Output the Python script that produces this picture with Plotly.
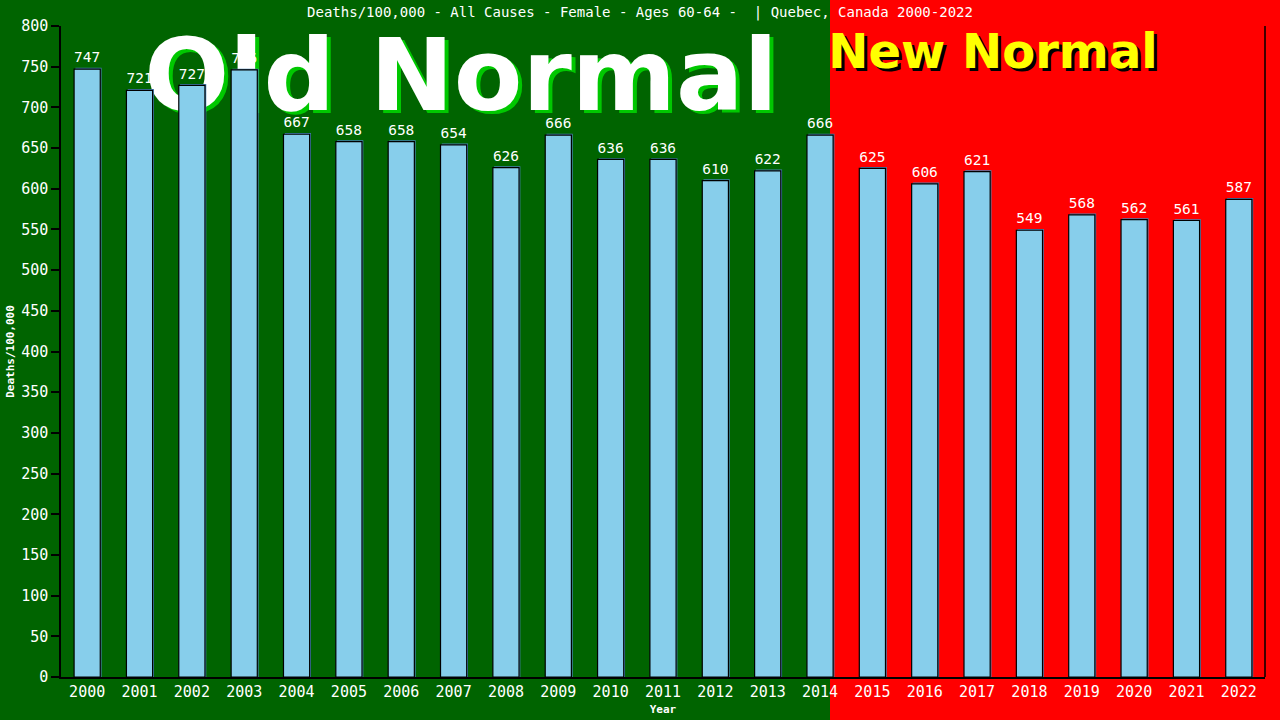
import plotly.graph_objects as go

years = [str(y) for y in range(2000, 2023)]
values = [747, 721, 727, 746, 667, 658, 658, 654, 626, 666, 636, 636, 610, 622, 666,
          625, 606, 621, 549, 568, 562, 561, 587]
labels = [str(v) for v in values]
y_ticks = list(range(0, 801, 50))

MONO = "DejaVu Sans Mono"
SANS_B = "DejaVu Sans"

PX_X = 23 / 1204   # one pixel in category units
PX_Y = 800 / 651   # one pixel in value units

fig = go.Figure()
# thin steel-blue edge behind each bar (shifted 1px right / up)
fig.add_trace(go.Bar(
    x=years, y=[v + 1.3 * PX_Y for v in values], width=0.5, offset=-0.25 + 1.3 * PX_X,
    marker=dict(color="#4682B4", line=dict(width=0)), hoverinfo="skip",
))
fig.add_trace(go.Bar(
    x=years, y=values, width=0.5, offset=-0.25, text=labels, textposition="outside",
    textfont=dict(family=MONO, size=15, color="white"),
    marker=dict(color="#87CEEB", line=dict(color="black", width=1.2)),
    cliponaxis=False,
))

split = (830 - 61) / 1204

shapes = [
    dict(type="rect", xref="paper", yref="paper", x0=-0.2, x1=split, y0=-0.2, y1=1.2,
         fillcolor="#006400", line=dict(width=0), layer="below"),
    dict(type="line", xref="paper", yref="paper", x0=1, x1=1, y0=0, y1=1,
         line=dict(color="black", width=1.5), layer="above"),
]

def text_shape(txt, cx, cy, size, color, dx=0, dy=0):
    px = lambda x: (x - 61) / 1204
    py = lambda y: (677 - y) / 651
    return dict(type="rect", xref="paper", yref="paper",
                x0=px(cx - 400 + dx), x1=px(cx + 400 + dx),
                y0=py(cy + 60 + dy), y1=py(cy - 60 + dy),
                line=dict(width=0), fillcolor="rgba(0,0,0,0)", layer="below",
                label=dict(text=txt, textposition="middle center",
                           font=dict(family=SANS_B, size=size, color=color, weight="bold")))

shapes.append(text_shape("Old Normal", 461, 68, 100, "#00c800", dx=4, dy=3))
shapes.append(text_shape("Old Normal", 461, 68, 100, "white"))
shapes.append(text_shape("New Normal", 993, 48, 48, "black", dx=3, dy=3))
shapes.append(text_shape("New Normal", 993, 48, 48, "#ffff00"))

fig.update_layout(
    width=1280, height=720,
    margin=dict(l=61, r=15, t=26, b=43),
    paper_bgcolor="#ff0000", plot_bgcolor="rgba(0,0,0,0)",
    shapes=shapes,
    barmode="overlay",
    showlegend=False,
    title=dict(text="Deaths/100,000 - All Causes - Female - Ages 60-64 -  | Quebec, Canada 2000-2022",
               x=0.5, xref="container", xanchor="center", y=0.983, yanchor="middle",
               font=dict(family=MONO, size=14, color="white")),
    xaxis=dict(
        range=[-0.5, 22.5], showgrid=False, showline=True, linecolor="black", linewidth=1.5,
        ticks="", tickfont=dict(family=MONO, size=15, color="white"), automargin=False,
        title=dict(text="<b>Year</b>", font=dict(family=MONO, size=11, color="white"), standoff=6),
    ),
    yaxis=dict(
        range=[0, 800], tickvals=y_ticks, showgrid=False, zeroline=False,
        showline=True, linecolor="black", linewidth=1.5, automargin=False,
        ticks="outside", ticklen=8, tickcolor="black", tickwidth=1.5,
        tickfont=dict(family=MONO, size=15, color="white"),
        title=dict(text="<b>Deaths/100,000</b>", font=dict(family=MONO, size=11, color="white"), standoff=4),
    ),
)

fig.write_html("out.html", config={"displayModeBar": False},
               post_script="document.body.style.margin='0';document.body.style.overflow='hidden';")
